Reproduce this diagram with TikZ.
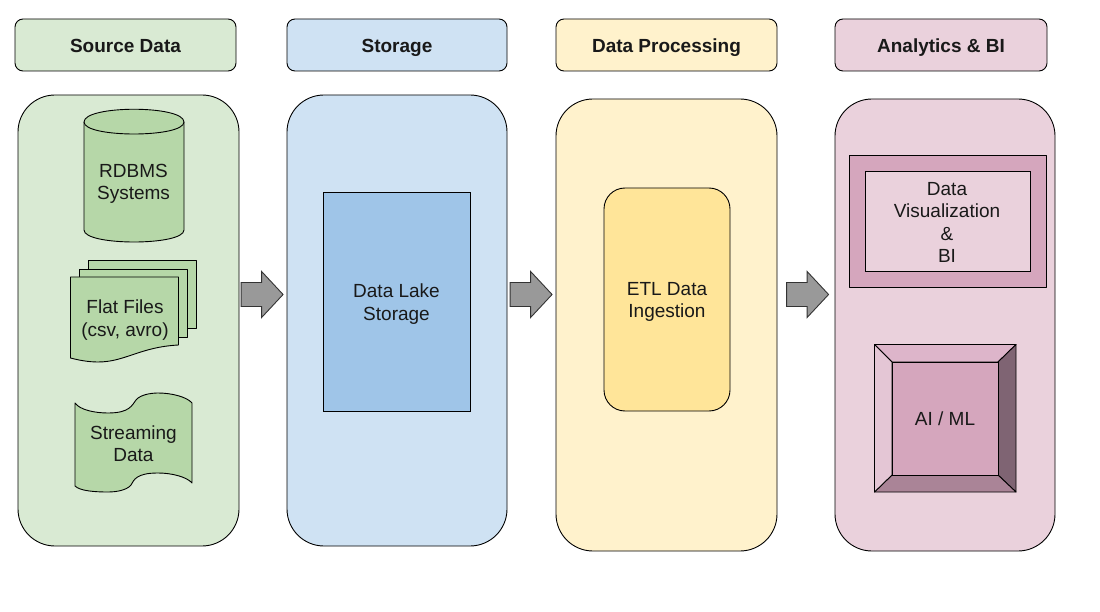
\documentclass[tikz,border=0pt]{standalone}
\usepackage{fontspec}
\setmainfont{Liberation Sans}
\usetikzlibrary{shapes.arrows}
\definecolor{gbg}{HTML}{D9EAD3}\definecolor{gfg}{HTML}{B6D7A8}
\definecolor{bbg}{HTML}{CFE2F3}\definecolor{bfg}{HTML}{9FC5E8}
\definecolor{ybg}{HTML}{FFF2CC}\definecolor{yfg}{HTML}{FFE599}
\definecolor{pbg}{HTML}{EAD1DC}\definecolor{pfg}{HTML}{D5A6BD}
\definecolor{ptop}{HTML}{DDB5CA}\definecolor{pleft}{HTML}{E4C6D5}
\definecolor{pright}{HTML}{7F6473}\definecolor{pbot}{HTML}{AA8497}
\tikzset{
 box/.style={draw=black,line width=0.9pt,inner sep=0pt,align=center,font=\fontsize{19}{22.5}\selectfont,text=black!90},
 header/.style={box,rounded corners=8pt,minimum height=52pt,text height=14.6pt,text depth=0pt,font=\fontsize{19}{22}\selectfont\bfseries},
 column/.style={box,rounded corners=37pt},
 blockarrow/.style={draw=black!80,line width=0.9pt,fill=black!40,single arrow,inner sep=0pt,minimum height=42pt,minimum width=45pt,single arrow head extend=11pt,single arrow tip angle=94},
 shape part/.style={draw=black,line width=0.9pt,fill=gfg,line join=round},
 label/.style={inner sep=0pt,align=center,font=\fontsize{19}{22.5}\selectfont,text=black!90},
 facet/.style={draw=black,line width=0.9pt,line join=round}
}
\begin{document}
\begin{tikzpicture}[x=1pt,y=-1pt]
\useasboundingbox (0,0) rectangle (1100,612);
% headers
\node[header,fill=gbg,minimum width=221pt] (h1) at (125.5,45) {Source Data};
\node[header,fill=bbg,minimum width=220pt] (h2) at (397,45) {Storage};
\node[header,fill=ybg,minimum width=221pt] (h3) at (666.5,45) {Data Processing};
\node[header,fill=pbg,minimum width=212pt] (h4) at (941,45) {Analytics \& BI};
% columns
\node[column,fill=gbg,minimum width=221pt,minimum height=451pt] (c1) at (128.5,320.5) {};
\node[column,fill=bbg,minimum width=220pt,minimum height=451pt] (c2) at (397,320.5) {};
\node[column,fill=ybg,minimum width=221pt,minimum height=452pt] (c3) at (666.5,325) {};
\node[column,fill=pbg,minimum width=220pt,minimum height=452pt] (c4) at (945,325) {};
% cylinder
\draw[shape part] (84,122) .. controls (84,105) and (184,105) .. (184,122)
  -- (184,230) .. controls (184,246) and (84,246) .. (84,230) -- cycle;
\draw[shape part] (84,122) .. controls (84,138) and (184,138) .. (184,122);
\node[label] (rdbms) at (133.5,184) {RDBMS\\Systems};
% multi document
\draw[shape part] (88,260) rectangle (196,328);
\draw[shape part] (79.5,269) rectangle (187.5,337);
\draw[shape part] (70.5,277) -- (178.5,277) -- (178.5,345)
  .. controls (140,347) and (125,362) .. (98,362)
  .. controls (88,362) and (78,360) .. (70.5,358) -- cycle;
\node[label] (flat) at (125,320) {Flat Files\\(csv, avro)};
% tape
\draw[shape part] (75,403) .. controls (80,410) and (95,413) .. (108,413)
  .. controls (130,413) and (132,405) .. (136,400)
  .. controls (140,395) and (150,393) .. (158,393)
  .. controls (172,393) and (187,397) .. (192,403)
  -- (192,483) .. controls (187,477) and (172,473) .. (158,473)
  .. controls (136,473) and (134,480) .. (131,485)
  .. controls (127,490) and (117,492) .. (108,492)
  .. controls (95,492) and (80,491) .. (75,486) -- cycle;
\node[label] (stream) at (133.5,443.5) {Streaming\\Data};
% arrows
\node[blockarrow] (a1) at (256.5,294.5) {\rule{0pt}{23pt}};
\node[blockarrow] (a2) at (525.5,294.5) {\rule{0pt}{23pt}};
\node[blockarrow] (a3) at (802,294.5) {\rule{0pt}{23pt}};
% storage & processing
\node[box,fill=bfg,minimum width=147pt,minimum height=219pt] (lake) at (396.5,301.5) {};
\node[label] (laketext) at (396.5,304) {Data Lake\\Storage};
\node[box,fill=yfg,rounded corners=21pt,minimum width=126pt,minimum height=223pt] (etl) at (667,299.5) {};
\node[label] (etltext) at (667,302) {ETL Data\\Ingestion};
% frame
\draw[facet,fill=pfg] (849,155) rectangle (1046.5,287.5);
\node[box,fill=pbg,minimum width=165pt,minimum height=100pt] (viz) at (947.5,221) {};
\node[label] (viztext) at (947,222.5) {Data\\Visualization\\\&\\BI};
% bevel
\coordinate (o1) at (874.5,344.5);\coordinate (o2) at (1016,344.5);
\coordinate (o3) at (1016,492);\coordinate (o4) at (874.5,492);
\coordinate (i1) at (892,362);\coordinate (i2) at (998,362);
\coordinate (i3) at (998,475);\coordinate (i4) at (892,475);
\draw[facet,fill=ptop] (o1)--(o2)--(i2)--(i1)--cycle;
\draw[facet,fill=pright] (o2)--(o3)--(i3)--(i2)--cycle;
\draw[facet,fill=pbot] (o3)--(o4)--(i4)--(i3)--cycle;
\draw[facet,fill=pleft] (o4)--(o1)--(i1)--(i4)--cycle;
\node[box,fill=pfg,minimum width=106pt,minimum height=113pt] (ai) at (945,418.5) {AI / ML};
\end{tikzpicture}
\end{document}
